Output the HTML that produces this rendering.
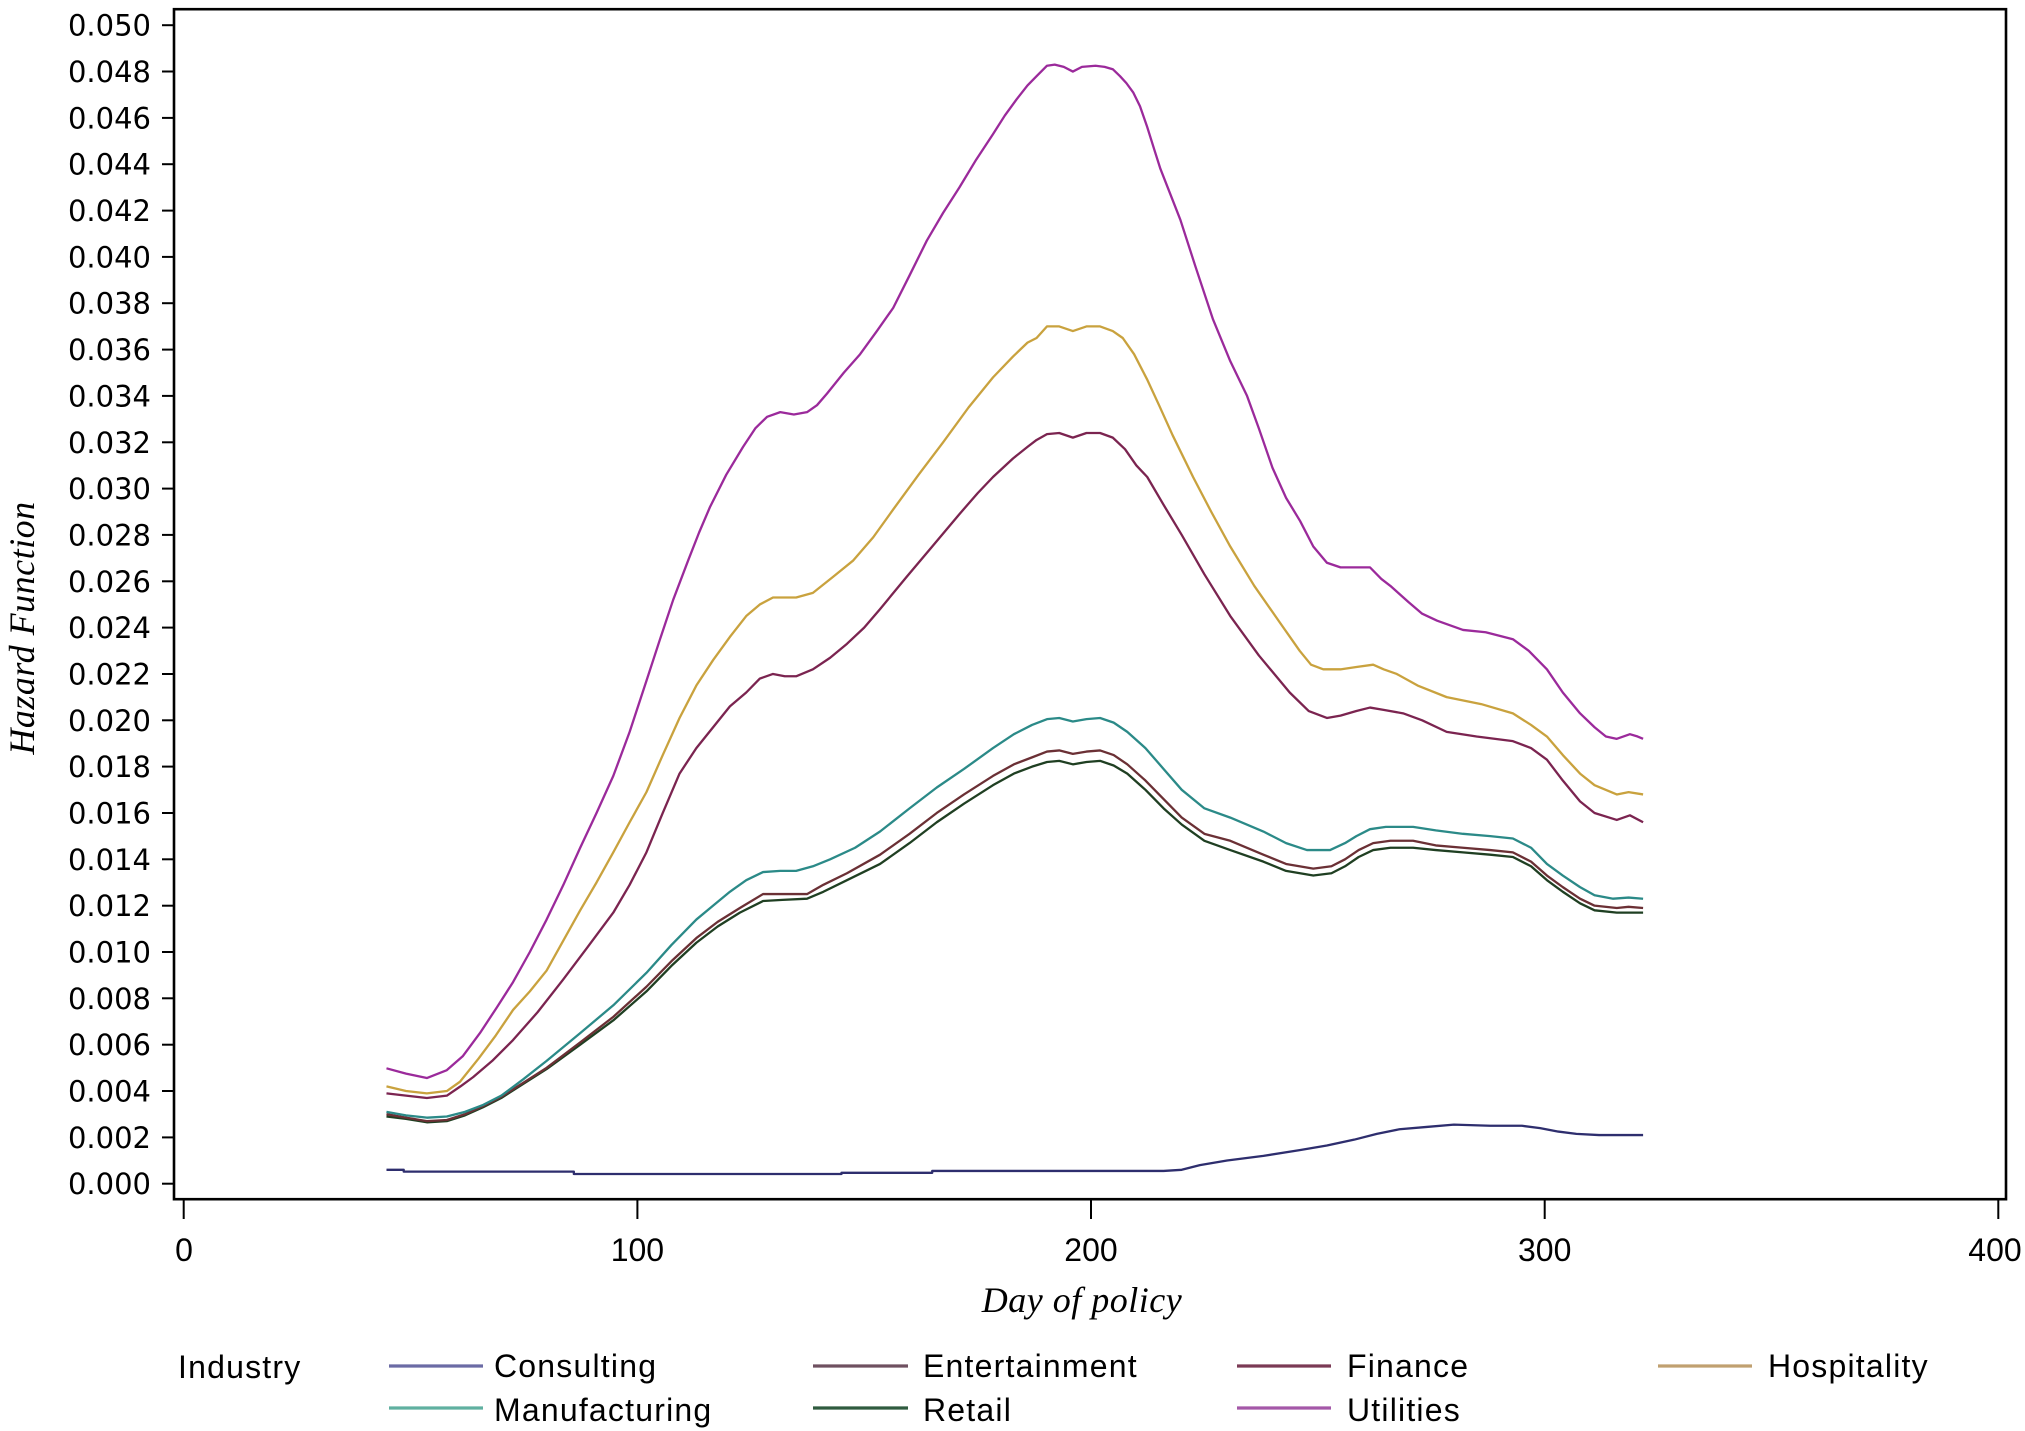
<!DOCTYPE html>
<html>
<head>
<meta charset="utf-8">
<style>
html,body{margin:0;padding:0;background:#fff;}
body{width:2025px;height:1431px;overflow:hidden;}
svg{display:block;}
.yt{font-family:"DejaVu Sans",sans-serif;font-size:29px;fill:#000;text-anchor:end;}
.xt{font-family:"Liberation Sans",sans-serif;font-size:32px;fill:#000;text-anchor:middle;}
.ttl{font-family:"Liberation Serif",serif;font-style:italic;font-size:36px;fill:#000;letter-spacing:0.5px;}
.lg{font-family:"Liberation Sans",sans-serif;font-size:32px;fill:#000;letter-spacing:1.2px;}
.s{fill:none;stroke-width:2.3;vector-effect:non-scaling-stroke;stroke-linejoin:round;}
</style>
</head>
<body>
<svg width="2025" height="1431" viewBox="0 0 2025 1431" xmlns="http://www.w3.org/2000/svg">
<rect x="0" y="0" width="2025" height="1431" fill="#fff"/>

<!-- series -->
<g transform="translate(183.7 1183.7) scale(4.5365 -23.17)">
<polyline class="s" stroke="#2e2e6e" points="44.7,0.6 48.5,0.6 48.5,0.52 86,0.52 86,0.42 145,0.42 145,0.47 165,0.47 165,0.55 216,0.55 220,0.6 224,0.8 230,1.0 238,1.2 246,1.45 252,1.65 258,1.9 263,2.15 268,2.35 274,2.45 280,2.55 288,2.5 295,2.5 299,2.4 303,2.25 307,2.15 312,2.1 321.7,2.1"/>
<polyline class="s" stroke="#1f3f22" points="44.7,2.9 49,2.8 53.6,2.65 58,2.7 62,2.95 66,3.3 70,3.7 74.8,4.3 80,4.95 87.4,6.0 94.7,7.05 102,8.3 107.5,9.4 113,10.4 117.7,11.1 122.6,11.7 127.7,12.2 132,12.25 137.4,12.3 141,12.6 146.2,13.1 153.5,13.8 160,14.7 166,15.6 172,16.4 178.4,17.2 183,17.7 187,18.0 190.3,18.2 193,18.25 196,18.1 199,18.2 202,18.25 205,18.05 208,17.7 212,17.0 216,16.2 220,15.5 225,14.8 230.7,14.4 238,13.9 243,13.5 249,13.3 253,13.4 256,13.7 259,14.1 262.2,14.4 266,14.5 271,14.5 276,14.4 282,14.3 288,14.2 293,14.1 297,13.7 300.5,13.1 304,12.6 307.8,12.1 311,11.8 315.9,11.7 318.5,11.7 321.7,11.7"/>
<polyline class="s" stroke="#6b3035" points="44.7,3.0 49,2.85 53.6,2.7 58,2.75 62,3.0 66,3.35 70,3.75 74.8,4.35 80,5.0 87.4,6.1 94.7,7.2 102,8.5 107.5,9.6 113,10.6 117.7,11.3 122.6,11.9 127.7,12.5 132,12.5 137.4,12.5 141,12.9 146.2,13.4 153.5,14.2 160,15.1 166,16.0 172,16.8 178.4,17.6 183,18.1 187,18.4 190.3,18.65 193,18.7 196,18.55 199,18.65 202,18.7 205,18.5 208,18.1 212,17.4 216,16.6 220,15.8 225,15.1 230.7,14.8 238,14.2 243,13.8 249,13.6 253,13.7 256,14.0 259,14.4 262.2,14.7 266,14.8 271,14.8 276,14.6 282,14.5 288,14.4 293,14.3 297,13.9 300.5,13.3 304,12.8 307.8,12.3 311,12.0 315.9,11.9 318.5,11.95 321.7,11.9"/>
<polyline class="s" stroke="#2b8a88" points="44.7,3.1 49,2.95 53.6,2.85 58,2.9 62,3.1 66,3.4 70,3.8 74.8,4.5 80,5.3 87.4,6.5 94.7,7.7 102,9.1 107.5,10.3 113,11.4 116.7,12.0 120.4,12.6 124,13.1 127.7,13.45 131.5,13.5 135,13.5 138.7,13.7 142.5,14.0 148,14.5 153.5,15.2 160,16.2 166,17.1 172,17.9 178.4,18.8 183,19.4 187,19.8 190.3,20.05 193,20.1 196,19.95 199,20.05 202,20.1 205,19.9 208,19.5 212,18.8 216,17.9 220,17.0 225,16.2 230.7,15.8 238,15.2 243,14.7 247.6,14.4 252.7,14.4 256,14.7 258.5,15.0 261.5,15.3 265,15.4 271,15.4 276,15.25 282,15.1 288,15.0 293,14.9 297,14.5 300.5,13.8 304,13.3 307.8,12.8 311,12.45 315.1,12.3 318.5,12.35 321.7,12.3"/>
<polyline class="s" stroke="#7b2450" points="44.7,3.9 49,3.8 53.6,3.7 58,3.8 61,4.2 63.8,4.6 68,5.3 72.6,6.2 78,7.4 83.6,8.8 89,10.2 94.7,11.7 98.3,12.9 102,14.3 105.6,16.0 109.3,17.7 113,18.8 116.7,19.7 120.4,20.6 124,21.2 127,21.8 129.9,22.0 132.5,21.9 135,21.9 138.7,22.2 142.5,22.7 146.2,23.3 150,24.0 153.5,24.8 159.4,26.2 165,27.5 171,28.9 175,29.8 178.4,30.5 182.8,31.3 186,31.8 188,32.1 190.3,32.35 193,32.4 196,32.2 199,32.4 202,32.4 204.8,32.2 207.5,31.7 210,31.0 212.4,30.5 216,29.3 220,28.0 225,26.3 230.7,24.5 237,22.8 243.8,21.2 248,20.4 252,20.1 255,20.2 258.5,20.4 261.5,20.55 264.5,20.45 268.8,20.3 273,20.0 278.4,19.5 285,19.3 293,19.1 297,18.8 300.5,18.3 304,17.4 307.8,16.5 311,16.0 315.9,15.7 318.8,15.9 321.7,15.6"/>
<polyline class="s" stroke="#c9a23e" points="44.7,4.2 49,4.0 53.6,3.9 58,4.0 60.9,4.4 65,5.4 68.8,6.4 72.6,7.5 76.3,8.3 80,9.2 83.7,10.5 87.4,11.8 91,13.0 94.7,14.3 98.3,15.6 102,16.9 105.6,18.5 109.3,20.1 113,21.5 116.7,22.6 120.4,23.6 124,24.5 127,25.0 129.9,25.3 132.5,25.3 135,25.3 138.7,25.5 143.2,26.2 147.6,26.9 152,27.9 156.4,29.1 162,30.6 167.4,32.0 173,33.5 178.4,34.8 182.8,35.7 186,36.3 188,36.5 190.3,37.0 193,37.0 196,36.8 199,37.0 202,37.0 204.8,36.8 207,36.5 209.5,35.8 212.4,34.7 215,33.6 218,32.3 222.5,30.5 226.5,29.0 230.7,27.5 236,25.8 241.7,24.2 246,23.0 248.5,22.4 251.2,22.2 255,22.2 258.5,22.3 262.2,22.4 264.5,22.2 267.4,22.0 272,21.5 278.4,21.0 286,20.7 293,20.3 297,19.8 300.5,19.3 304,18.5 307.8,17.7 311,17.2 315.9,16.8 318.5,16.9 321.7,16.8"/>
<polyline class="s" stroke="#9b2a9b" points="44.7,4.98 49,4.75 53.6,4.56 58,4.9 61.5,5.5 65.3,6.5 69,7.6 72.6,8.7 76.3,10.0 80,11.4 83.7,12.9 87.4,14.5 91,16.0 94.7,17.6 98.3,19.5 102,21.7 105,23.5 107.9,25.2 111.2,26.9 113.6,28.1 116,29.2 119.6,30.6 123.3,31.8 126,32.6 128.6,33.1 131.5,33.3 134.5,33.2 137.4,33.3 139.6,33.6 141.8,34.1 145.5,35.0 149.1,35.8 152.8,36.8 156.4,37.8 160,39.2 163.8,40.7 167.4,41.9 171,43.0 174.7,44.2 178.4,45.3 181,46.1 183.6,46.8 186,47.4 188,47.8 190.3,48.25 192,48.3 194,48.2 196,48.0 198,48.2 201,48.25 203,48.2 204.8,48.1 206.4,47.8 207.8,47.5 209.3,47.1 210.8,46.5 212.4,45.6 214,44.6 215.3,43.8 217.5,42.7 219.7,41.6 223,39.6 226.9,37.3 230.7,35.5 234.4,34.0 237,32.6 240,30.9 243,29.6 246.1,28.6 249,27.5 252,26.8 255,26.6 258,26.6 261.5,26.6 264,26.1 266,25.8 270,25.1 273,24.6 276.3,24.3 282,23.9 287,23.8 293,23.5 296.5,23.0 300.5,22.2 304,21.2 307.8,20.3 311,19.7 313.5,19.3 315.9,19.2 318.8,19.4 320.5,19.3 321.7,19.2"/>
</g>

<!-- frame -->
<rect x="174" y="9.2" width="1832" height="1190" fill="none" stroke="#000" stroke-width="2.6"/>

<!-- y ticks -->
<g stroke="#000" stroke-width="2">
<line x1="162" y1="1183.7" x2="174" y2="1183.7"/>
<line x1="162" y1="1137.4" x2="174" y2="1137.4"/>
<line x1="162" y1="1091.0" x2="174" y2="1091.0"/>
<line x1="162" y1="1044.7" x2="174" y2="1044.7"/>
<line x1="162" y1="998.3" x2="174" y2="998.3"/>
<line x1="162" y1="952.0" x2="174" y2="952.0"/>
<line x1="162" y1="905.7" x2="174" y2="905.7"/>
<line x1="162" y1="859.3" x2="174" y2="859.3"/>
<line x1="162" y1="813.0" x2="174" y2="813.0"/>
<line x1="162" y1="766.6" x2="174" y2="766.6"/>
<line x1="162" y1="720.3" x2="174" y2="720.3"/>
<line x1="162" y1="674.0" x2="174" y2="674.0"/>
<line x1="162" y1="627.6" x2="174" y2="627.6"/>
<line x1="162" y1="581.3" x2="174" y2="581.3"/>
<line x1="162" y1="534.9" x2="174" y2="534.9"/>
<line x1="162" y1="488.6" x2="174" y2="488.6"/>
<line x1="162" y1="442.3" x2="174" y2="442.3"/>
<line x1="162" y1="395.9" x2="174" y2="395.9"/>
<line x1="162" y1="349.6" x2="174" y2="349.6"/>
<line x1="162" y1="303.2" x2="174" y2="303.2"/>
<line x1="162" y1="256.9" x2="174" y2="256.9"/>
<line x1="162" y1="210.6" x2="174" y2="210.6"/>
<line x1="162" y1="164.2" x2="174" y2="164.2"/>
<line x1="162" y1="117.9" x2="174" y2="117.9"/>
<line x1="162" y1="71.5" x2="174" y2="71.5"/>
<line x1="162" y1="25.2" x2="174" y2="25.2"/>
</g>
<g class="yt">
<text x="151" y="1194.2">0.000</text>
<text x="151" y="1147.9">0.002</text>
<text x="151" y="1101.5">0.004</text>
<text x="151" y="1055.2">0.006</text>
<text x="151" y="1008.8">0.008</text>
<text x="151" y="962.5">0.010</text>
<text x="151" y="916.2">0.012</text>
<text x="151" y="869.8">0.014</text>
<text x="151" y="823.5">0.016</text>
<text x="151" y="777.1">0.018</text>
<text x="151" y="730.8">0.020</text>
<text x="151" y="684.5">0.022</text>
<text x="151" y="638.1">0.024</text>
<text x="151" y="591.8">0.026</text>
<text x="151" y="545.4">0.028</text>
<text x="151" y="499.1">0.030</text>
<text x="151" y="452.8">0.032</text>
<text x="151" y="406.4">0.034</text>
<text x="151" y="360.1">0.036</text>
<text x="151" y="313.7">0.038</text>
<text x="151" y="267.4">0.040</text>
<text x="151" y="221.1">0.042</text>
<text x="151" y="174.7">0.044</text>
<text x="151" y="128.4">0.046</text>
<text x="151" y="82.0">0.048</text>
<text x="151" y="35.7">0.050</text>
</g>

<!-- x ticks -->
<g stroke="#000" stroke-width="2">
<line x1="183.7" y1="1200" x2="183.7" y2="1219"/>
<line x1="637.4" y1="1200" x2="637.4" y2="1219"/>
<line x1="1091" y1="1200" x2="1091" y2="1219"/>
<line x1="1544.7" y1="1200" x2="1544.7" y2="1219"/>
<line x1="1998.3" y1="1200" x2="1998.3" y2="1219"/>
</g>
<g class="xt">
<text x="184" y="1261">0</text>
<text x="637.4" y="1261">100</text>
<text x="1091" y="1261">200</text>
<text x="1544.7" y="1261">300</text>
<text x="1995" y="1261">400</text>
</g>

<!-- axis titles -->
<text class="ttl" x="1082" y="1312" text-anchor="middle">Day of policy</text>
<text class="ttl" transform="translate(34 628) rotate(-90)" text-anchor="middle">Hazard Function</text>

<!-- legend -->
<text class="lg" x="178" y="1378">Industry</text>
<g stroke-width="3.2">
<line x1="389" y1="1366" x2="483" y2="1366" stroke="#6b6ba5"/>
<line x1="813" y1="1366" x2="908" y2="1366" stroke="#6f5060"/>
<line x1="1237" y1="1366" x2="1331" y2="1366" stroke="#7b3a55"/>
<line x1="1658" y1="1366" x2="1752" y2="1366" stroke="#c0a070"/>
<line x1="389" y1="1408" x2="483" y2="1408" stroke="#60b0a0"/>
<line x1="813" y1="1408" x2="908" y2="1408" stroke="#2f5b3f"/>
<line x1="1237" y1="1408" x2="1331" y2="1408" stroke="#a458a8"/>
</g>
<g class="lg">
<text x="494" y="1377">Consulting</text>
<text x="923" y="1377">Entertainment</text>
<text x="1347" y="1377">Finance</text>
<text x="1768" y="1377">Hospitality</text>
<text x="494" y="1421">Manufacturing</text>
<text x="923" y="1421">Retail</text>
<text x="1347" y="1421">Utilities</text>
</g>
</svg>
</body>
</html>
